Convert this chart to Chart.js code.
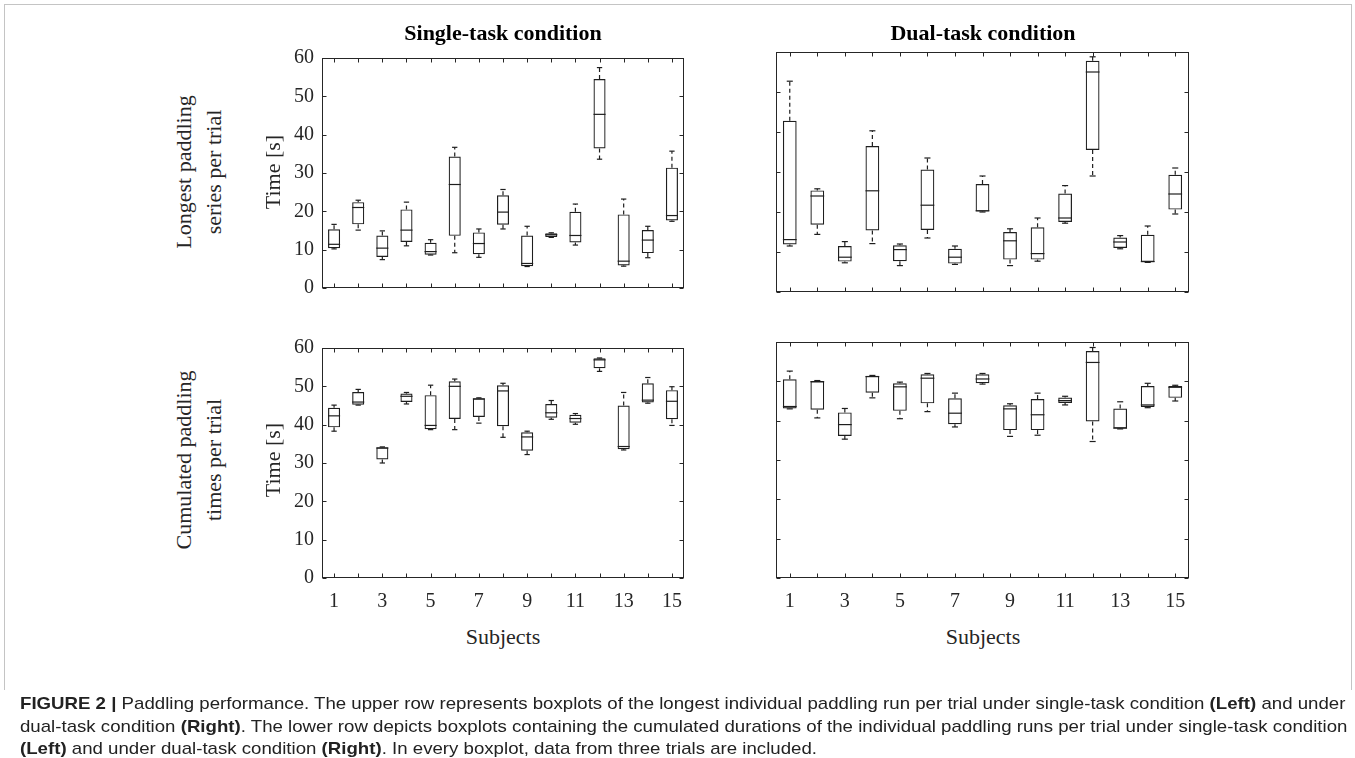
<!DOCTYPE html>
<html><head><meta charset="utf-8">
<script src="https://cdn.jsdelivr.net/npm/chart.js@4/dist/chart.umd.min.js"></script>
<style>
html,body{margin:0;padding:0;background:#fff;}
body{width:1355px;height:758px;position:relative;overflow:hidden;font-family:"Liberation Serif","Times New Roman",serif;color:#262626;}
.frame{position:absolute;left:4px;top:4px;width:1348px;height:686px;border:1px solid #c4c4c4;border-bottom:none;box-sizing:border-box;}
.pane{position:absolute;}
.t{position:absolute;white-space:nowrap;transform:translate(-50%,-50%);line-height:1;}
.rot{transform:translate(-50%,-50%) rotate(-90deg);}
.title{font-weight:bold;font-size:22px;color:#000;}
.lab{font-size:22px;}
#caption{position:absolute;left:20px;top:0;transform-origin:0 0;font-family:"Liberation Sans",Arial,sans-serif;font-size:17px;color:#222;}
#caption div{position:absolute;left:0;white-space:nowrap;line-height:1;}
</style>
</head><body>
<div class="frame"></div>

<div class="pane"><canvas id="tl"></canvas></div>
<div class="pane"><canvas id="tr"></canvas></div>
<div class="pane"><canvas id="bl"></canvas></div>
<div class="pane"><canvas id="br"></canvas></div>

<div class="t title" style="left:503px;top:33px;">Single-task condition</div>
<div class="t title" style="left:983px;top:33px;">Dual-task condition</div>

<div class="t lab rot" style="left:184px;top:172px;">Longest paddling</div>
<div class="t lab rot" style="left:214px;top:172px;">series per trial</div>
<div class="t lab rot" style="left:273px;top:172px;">Time [s]</div>

<div class="t lab rot" style="left:184px;top:460px;">Cumulated paddling</div>
<div class="t lab rot" style="left:214px;top:460px;">times per trial</div>
<div class="t lab rot" style="left:273px;top:460px;">Time [s]</div>

<div class="t lab" style="left:503px;top:637px;">Subjects</div>
<div class="t lab" style="left:983px;top:637px;">Subjects</div>

<div id="caption">
  <div id="cap1" style="top:695px;"><b>FIGURE 2 |</b> Paddling performance. The upper row represents boxplots of the longest individual paddling run per trial under single-task condition <b>(Left)</b> and under</div>
  <div style="top:718px;">dual-task condition <b>(Right)</b>. The lower row depicts boxplots containing the cumulated durations of the individual paddling runs per trial under single-task condition</div>
  <div style="top:740px;"><b>(Left)</b> and under dual-task condition <b>(Right)</b>. In every boxplot, data from three trials are included.</div>
</div>

<script>
// ---------- DATA (each entry: [lower whisker, Q1, median, Q3, upper whisker]) ----------
const subjects = ['1','2','3','4','5','6','7','8','9','10','11','12','13','14','15'];
const yTickStep = 10;
const yMin = 0;
const yMax = 60;

const singleLongest = [
  [10.2,10.4,11.4,15.3,16.6],
  [15.1,16.6,21.0,22.4,22.9],
  [7.4,8.1,10.4,13.7,14.9],
  [11.0,12.0,15.1,20.5,22.4],
  [8.6,8.7,9.5,11.8,12.6],
  [9.2,13.6,27.0,34.3,36.7],
  [8.0,8.8,11.6,14.5,15.4],
  [15.4,16.5,19.8,24.2,25.7],
  [5.6,5.7,6.4,13.7,16.1],
  [13.2,13.3,13.9,14.3,14.4],
  [11.2,11.9,13.7,19.9,21.9],
  [33.6,36.4,45.3,54.5,57.5],
  [5.7,5.9,7.0,19.2,23.2],
  [7.9,9.1,12.5,15.1,16.1],
  [17.4,17.6,18.9,31.4,35.7]
];
const dualLongest = [
  [11.5,11.9,13.1,42.8,52.7],
  [14.4,16.8,24.0,25.4,25.8],
  [7.3,7.6,8.7,11.5,12.6],
  [12.1,15.4,25.3,36.5,40.3],
  [6.6,7.7,10.6,11.7,12.0],
  [13.5,15.5,21.7,30.6,33.5],
  [6.9,7.1,8.7,10.8,11.5],
  [20.0,20.1,20.3,27.0,29.0],
  [6.6,8.1,12.8,15.0,15.8],
  [7.7,8.1,9.6,16.2,18.5],
  [17.2,17.5,18.5,24.6,26.6],
  [29.0,35.5,55.0,57.8,58.8],
  [10.8,11.0,12.5,13.6,14.1],
  [7.4,7.5,7.6,14.3,16.5],
  [19.5,20.6,24.5,29.3,31.0]
];
const singleCumulated = [
  [38.3,39.3,42.3,44.4,45.1],
  [45.1,45.2,45.9,48.5,49.2],
  [30.0,30.9,33.9,34.1,34.2],
  [45.4,45.9,47.4,48.1,48.4],
  [38.7,38.8,39.8,47.7,50.3],
  [38.7,41.5,50.0,51.3,51.9],
  [40.4,42.0,46.7,46.9,47.0],
  [36.7,39.6,48.8,50.3,50.8],
  [32.2,33.2,36.8,38.0,38.3],
  [41.4,41.8,43.1,45.4,46.3],
  [40.1,40.5,41.6,42.6,42.9],
  [53.9,54.7,56.9,57.3,57.4],
  [33.4,33.6,34.3,45.0,48.4],
  [45.6,45.8,46.4,50.8,52.3],
  [39.8,41.4,46.1,49.0,49.9]
];
const dualCumulated = [
  [43.0,43.1,43.6,50.5,52.6],
  [40.7,42.8,49.9,50.1,50.2],
  [35.3,36.1,39.0,42.1,43.1],
  [45.8,47.1,51.2,51.4,51.5],
  [40.5,42.5,48.6,49.5,49.8],
  [42.3,44.4,50.8,51.8,52.0],
  [38.4,39.1,41.9,45.7,47.0],
  [49.3,49.5,50.6,51.8,52.0],
  [36.0,37.6,43.0,43.9,44.3],
  [36.3,37.6,41.5,45.5,47.0],
  [44.0,44.5,45.1,45.9,46.2],
  [34.7,39.8,54.8,57.7,58.6],
  [37.9,38.0,38.1,43.1,44.8],
  [43.3,43.5,44.0,48.8,49.5],
  [45.0,45.8,48.5,48.8,49.0]
];

// ---------- rendering ----------
const AXIS_COLOR = '#262626';
const BOX_COLOR = '#1e1e1e';
const SERIF = '"Liberation Serif","Times New Roman",serif';

const boxPlugin = {
  id: 'boxExtras',
  afterDatasetsDraw(chart) {
    const ctx = chart.ctx;
    const x = chart.scales.x, y = chart.scales.y;
    const ds = chart.data.datasets[0];
    const meta = chart.getDatasetMeta(0);
    ctx.save();
    ctx.strokeStyle = BOX_COLOR;
    ctx.lineWidth = 1.2;
    ds.stats.forEach((s, i) => {
      const bar = meta.data[i];
      const cx = x.getPixelForValue(i);
      const half = bar.width / 2;
      const cap = bar.width * 0.22;
      const yl = y.getPixelForValue(s[0]);
      const y1 = y.getPixelForValue(s[1]);
      const ym = y.getPixelForValue(s[2]);
      const y3 = y.getPixelForValue(s[3]);
      const yh = y.getPixelForValue(s[4]);
      ctx.setLineDash([]);
      ctx.beginPath(); ctx.moveTo(cx - half, ym); ctx.lineTo(cx + half, ym); ctx.stroke();
      ctx.setLineDash([4, 3]);
      ctx.beginPath(); ctx.moveTo(cx, y3); ctx.lineTo(cx, yh); ctx.stroke();
      ctx.beginPath(); ctx.moveTo(cx, y1); ctx.lineTo(cx, yl); ctx.stroke();
      ctx.setLineDash([]);
      ctx.beginPath(); ctx.moveTo(cx - cap, yh); ctx.lineTo(cx + cap, yh); ctx.stroke();
      ctx.beginPath(); ctx.moveTo(cx - cap, yl); ctx.lineTo(cx + cap, yl); ctx.stroke();
    });
    ctx.restore();
  },
  afterDraw(chart) {
    const ctx = chart.ctx;
    const a = chart.chartArea;
    const x = chart.scales.x, y = chart.scales.y;
    const L = Math.round(a.left) + 0.5, R = Math.round(a.right) - 0.5;
    const T = Math.round(a.top) + 0.5, B = Math.round(a.bottom) - 0.5;
    const tl = 4;
    ctx.save();
    ctx.strokeStyle = AXIS_COLOR;
    ctx.lineWidth = 1;
    ctx.strokeRect(L, T, R - L, B - T);
    ctx.beginPath();
    y.ticks.forEach(t => {
      const py = Math.round(y.getPixelForValue(t.value)) + 0.5;
      ctx.moveTo(L, py); ctx.lineTo(L + tl, py);
      ctx.moveTo(R, py); ctx.lineTo(R - tl, py);
    });
    subjects.forEach((s, i) => {
      const px = Math.round(x.getPixelForValue(i)) + 0.5;
      ctx.moveTo(px, B); ctx.lineTo(px, B - tl);
      ctx.moveTo(px, T); ctx.lineTo(px, T + tl);
    });
    ctx.stroke();
    ctx.restore();
  }
};

const panels = [
  {id:'tl', stats:singleLongest,   L:322, R:684,  T:52,  B:292, yLab:true,  xLab:false},
  {id:'tr', stats:dualLongest,     L:776, R:1189, T:52,  B:292, yLab:false, xLab:false},
  {id:'bl', stats:singleCumulated, L:322, R:684,  T:342, B:578, yLab:true,  xLab:true},
  {id:'br', stats:dualCumulated,   L:776, R:1189, T:342, B:578, yLab:false, xLab:true}
];

panels.forEach(p => {
  const AW = p.yLab ? 60 : 12;
  const PT = 14, PR = 18;
  const XH = p.xLab ? 46 : 16;
  const W = (p.R - p.L) + AW + PR;
  const H = (p.B - p.T) + PT + XH;
  const cv = document.getElementById(p.id);
  const pane = cv.parentNode;
  pane.style.left = (p.L - AW) + 'px';
  pane.style.top = (p.T - PT) + 'px';
  pane.style.width = W + 'px';
  pane.style.height = H + 'px';
  cv.width = W; cv.height = H;
  cv.style.width = W + 'px'; cv.style.height = H + 'px';

  new Chart(cv, {
    type: 'bar',
    data: {
      labels: subjects,
      datasets: [{
        data: p.stats.map(s => [s[1], s[3]]),
        stats: p.stats,
        backgroundColor: 'rgba(255,255,255,0)',
        borderColor: BOX_COLOR,
        borderWidth: 1.2,
        borderSkipped: false,
        barPercentage: 0.5,
        categoryPercentage: 1.0
      }]
    },
    options: {
      responsive: false,
      devicePixelRatio: 1,
      animation: false,
      events: [],
      layout: { padding: { left: 0, top: PT, right: PR, bottom: 0 } },
      plugins: { legend: { display: false }, tooltip: { enabled: false }, title: { display: false } },
      scales: {
        x: {
          offset: true,
          grid: { display: false, drawTicks: false },
          border: { display: false },
          ticks: {
            display: p.xLab, autoSkip: false, maxRotation: 0, minRotation: 0, padding: 12,
            color: AXIS_COLOR, font: { family: SERIF, size: 20 },
            callback: (v, i) => (i % 2 === 0 ? subjects[i] : '')
          },
          afterFit: s => { s.height = XH; }
        },
        y: {
          min: yMin, max: yMax,
          grid: { display: false, drawTicks: false },
          border: { display: false },
          ticks: {
            display: p.yLab, stepSize: yTickStep, padding: 8,
            color: AXIS_COLOR, font: { family: SERIF, size: 20 }
          },
          afterFit: s => { s.width = AW; }
        }
      }
    },
    plugins: [boxPlugin]
  });
});

// caption: stretch line 1 to the width it has in the reference
function fitCaption() {
  const cap = document.getElementById('caption');
  const l1 = document.getElementById('cap1');
  const w = l1.offsetWidth;
  const target = 1325;
  if (w > 0) cap.style.transform = 'scaleX(' + (target / w) + ')';
}
fitCaption();
if (document.fonts && document.fonts.ready) document.fonts.ready.then(fitCaption);
</script>
</body></html>
